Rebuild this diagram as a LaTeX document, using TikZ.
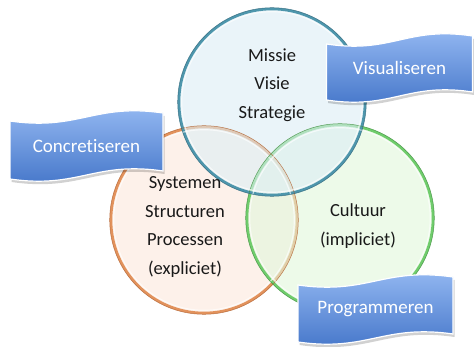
\documentclass[tikz,border=0pt]{standalone}
\usepackage{fontspec}
\setmainfont{Carlito}[Ligatures=NoCommon]
\definecolor{blueline}{RGB}{78,150,172}
\definecolor{bluedark}{RGB}{45,100,120}
\definecolor{bluefill}{RGB}{220,238,245}
\definecolor{orangeline}{RGB}{226,146,92}
\definecolor{orangedark}{RGB}{175,95,45}
\definecolor{orangefill}{RGB}{252,233,220}
\definecolor{greenline}{RGB}{112,204,108}
\definecolor{greendark}{RGB}{60,140,60}
\definecolor{greenfill}{RGB}{225,247,219}
\definecolor{bannertop}{RGB}{150,186,243}
\definecolor{bannerbottom}{RGB}{66,116,200}
\definecolor{inktext}{RGB}{25,25,25}
% wave-shaped banner: name, centre x, centre y, half width, half height, label
\newcommand\wavebanner[6]{%
  \begin{scope}[shift={(#2,#3)}]
    \fill[bannershadow] (-#4+1.5,-#5+7) .. controls (-0.1*#4+1.5,-#5+17) and (0.1*#4+1.5,-#5-11) .. (#4+1.5,-#5-1)
      -- (#4+1.5,#5-1) .. controls (0.1*#4+1.5,#5-11) and (-0.1*#4+1.5,#5+17) .. (-#4+1.5,#5+7) -- cycle;
    \path[bannerbody] (-#4,-#5+4) .. controls (-0.1*#4,-#5+14) and (0.1*#4,-#5-14) .. (#4,-#5-4)
      -- (#4,#5-4) .. controls (0.1*#4,#5-14) and (-0.1*#4,#5+14) .. (-#4,#5+4) -- cycle;
  \end{scope}
  \node[bannertext] (#1) at (#2,#3) {#6};}
\begin{document}
\begin{tikzpicture}[x=1pt,y=-1pt,
  ring/.style={circle, minimum size=186pt, inner sep=0pt, line width=2.6pt, fill opacity=0.6},
  glow/.style={white, line width=1.1pt, opacity=0.65},
  rim/.style={line width=0.5pt, opacity=0.8},
  circletext/.style={align=center, text=inktext, font=\fontsize{18.5}{28.5}\selectfont},
  bannershadow/.style={fill=black, opacity=0.18},
  bannerbody/.style={top color=bannertop, bottom color=bannerbottom, draw=white, line width=1.2pt},
  bannertext/.style={text=white, font=\fontsize{19}{22}\selectfont}]
\useasboundingbox (0,0) rectangle (474,347);
\fill[white] (0,0) rectangle (474,347);

% the three overlapping circles
\node[ring, fill=orangefill, draw=orangeline] (orange) at (204,220) {};
\node[ring, fill=greenfill, draw=greenline] (green) at (340,218) {};
\node[ring, fill=bluefill, draw=blueline] (blue) at (272,102) {};
\foreach \c/\d in {orange/orangedark, green/greendark, blue/bluedark}{
  \draw[glow] (\c.center) circle[radius=90.3];
  \draw[rim, \d] (\c.center) circle[radius=94.3];
}

% circle labels
\node[circletext] (mvs) at (272,85) {Missie\\Visie\\Strategie};
\node[circletext] (ssp) at (185,227) {Systemen\\Structuren\\Processen\\(expliciet)};
\node[circletext] (cult) at (358,226) {Cultuur\\(impliciet)};

% banners
\wavebanner{vis}{399.5}{68}{73}{28}{Visualiseren}
\wavebanner{conc}{86.5}{146}{76.5}{29}{Concretiseren}
\wavebanner{prog}{375.5}{309.5}{77.5}{28.5}{Programmeren}
\end{tikzpicture}
\end{document}
